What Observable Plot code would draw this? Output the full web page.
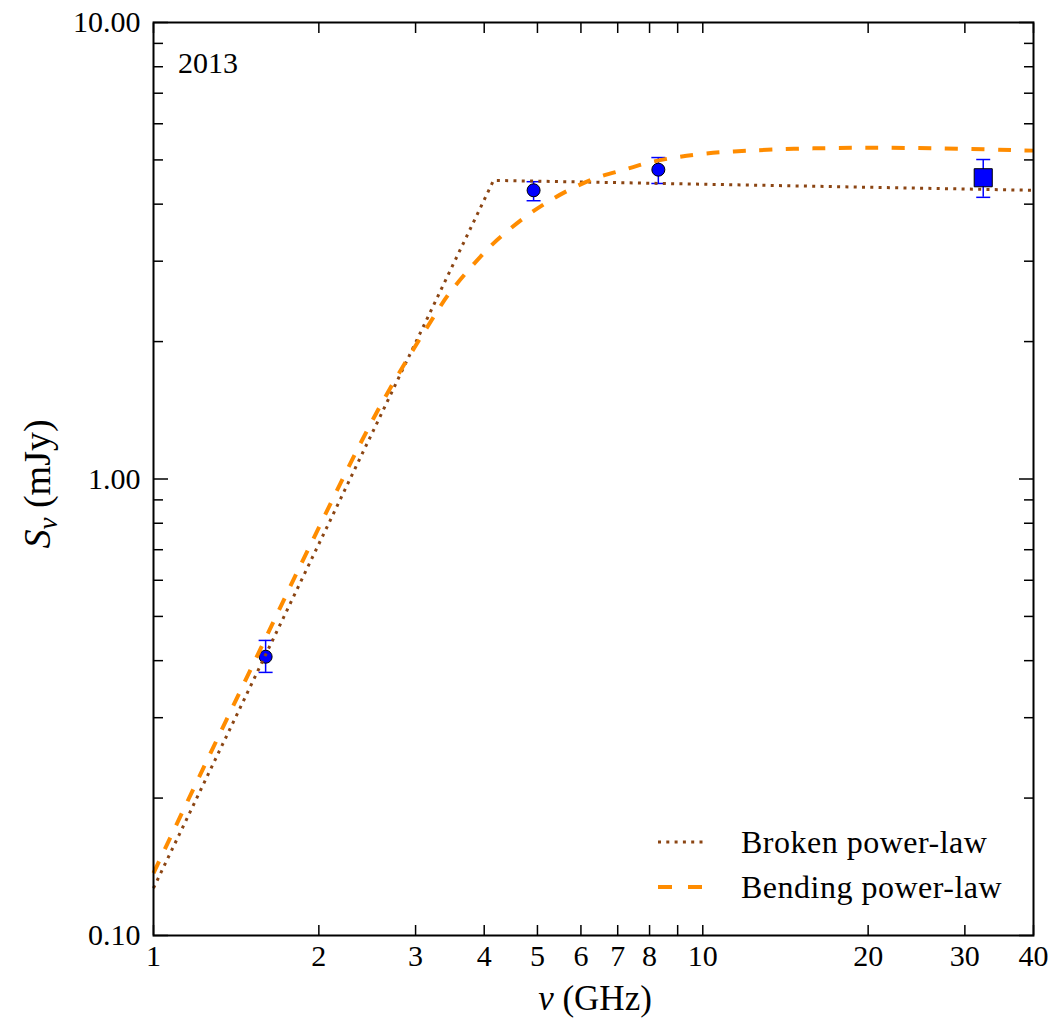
<!DOCTYPE html>
<html><head><meta charset="utf-8">
<script src="https://cdn.jsdelivr.net/npm/d3@7"></script>
<script src="https://cdn.jsdelivr.net/npm/@observablehq/plot@0.6"></script>
<style>body{margin:0;background:#fff}</style>
</head><body><div id="chart"></div>
<script>
const xTicks = [1, 2, 3, 4, 5, 6, 7, 8, 9, 10, 20, 30, 40];
const yMajor = [0.1, 1, 10];
const yMajorLabels = ["0.10", "1.00", "10.00"];
const yMinor = [0.2, 0.3, 0.4, 0.5, 0.6, 0.7, 0.8, 0.9, 2, 3, 4, 5, 6, 7, 8, 9];

// measured flux densities (circles)
const circFreq = [1.60, 4.92, 8.3];
const circFlux = [0.408, 4.29, 4.76];
const circLo = [0.377, 4.07, 4.44];
const circHi = [0.443, 4.48, 5.06];
// measured flux density (square)
const sqFreq = [32.4];
const sqFlux = [4.57];
const sqLo = [4.14];
const sqHi = [5.01];

// broken power-law model
const brokenFreq = [1.0, 4.16, 40];
const brokenFlux = [0.127, 4.51, 4.29];
// bending power-law model
const bendFreq = [1.0, 1.233, 1.57, 1.908, 2.59, 3.27, 3.48, 4.06, 4.37, 4.78, 5.21, 5.76, 6.44, 7.20, 8.01, 8.98, 10.04, 11.39, 15.9, 24.2, 40];
const bendFlux = [0.137, 0.233, 0.427, 0.697, 1.449, 2.31, 2.58, 3.19, 3.46, 3.77, 4.04, 4.32, 4.58, 4.76, 4.94, 5.07, 5.16, 5.22, 5.30, 5.31, 5.24];

const circles = circFreq.map((f, i) => ({f, s: circFlux[i], lo: circLo[i], hi: circHi[i]}));
const squares = sqFreq.map((f, i) => ({f, s: sqFlux[i], lo: sqLo[i], hi: sqHi[i]}));
const errs = circles.concat(squares);
const broken = brokenFreq.map((f, i) => ({f, s: brokenFlux[i]}));
const bend = bendFreq.map((f, i) => ({f, s: bendFlux[i]}));

const BLUE = "#0000ff", ORANGE = "#ff8c00", BROWN = "#8b4513";
const capSymbol = {draw(ctx) { ctx.moveTo(-7, 0); ctx.lineTo(7, 0); }};
const FONT = "Liberation Serif";
const yLabelOf = d => yMajorLabels[yMajor.indexOf(d)] ?? "";

const plot = Plot.plot({
  width: 1050, height: 1018,
  marginLeft: 153, marginRight: 17, marginTop: 22, marginBottom: 83,
  x: {type: "log", domain: [1, 40]},
  y: {type: "log", domain: [0.1, 10]},
  style: {fontFamily: FONT, background: "white", color: "black"},
  marks: [
    // ticks (inward, all four sides)
    Plot.axisX(xTicks, {anchor: "bottom", tickSize: -10, fill: "none", strokeWidth: 1.5, label: null}),
    Plot.axisX(xTicks, {anchor: "top", tickSize: -10, fill: "none", strokeWidth: 1.5, label: null}),
    Plot.axisY(yMajor, {anchor: "left", tickSize: -15, fill: "none", strokeWidth: 1.5, label: null}),
    Plot.axisY(yMajor, {anchor: "right", tickSize: -15, fill: "none", strokeWidth: 1.5, label: null}),
    Plot.axisY(yMinor, {anchor: "left", tickSize: -10, fill: "none", strokeWidth: 1.5, label: null}),
    Plot.axisY(yMinor, {anchor: "right", tickSize: -10, fill: "none", strokeWidth: 1.5, label: null}),
    // tick labels
    Plot.axisX(xTicks, {anchor: "bottom", tickSize: 0, tickPadding: 9, fontSize: 30, tickFormat: d => String(d), label: null}),
    Plot.axisY(yMajor, {anchor: "left", tickSize: 0, tickPadding: 13, fontSize: 30, tickFormat: yLabelOf, label: null}),
    // error bars
    Plot.ruleX(errs, {x: "f", y1: "lo", y2: "hi", stroke: BLUE, strokeWidth: 1.5}),
    Plot.dot(errs, {x: "f", y: "lo", symbol: capSymbol, stroke: BLUE, strokeWidth: 1.5, fill: "none"}),
    Plot.dot(errs, {x: "f", y: "hi", symbol: capSymbol, stroke: BLUE, strokeWidth: 1.5, fill: "none"}),
    // points
    Plot.dot(circles, {x: "f", y: "s", r: 6.5, fill: BLUE, stroke: "black", strokeWidth: 1}),
    Plot.dot(squares, {x: "f", y: "s", symbol: "square", r: 10.2, fill: BLUE, stroke: "black", strokeWidth: 1}),
    // models
    Plot.line(broken, {x: "f", y: "s", stroke: BROWN, strokeWidth: 3, strokeDasharray: "3,5.3", strokeLinecap: "butt"}),
    Plot.line(bend, {x: "f", y: "s", stroke: ORANGE, strokeWidth: 4, strokeDasharray: "13,13.5", strokeLinecap: "butt", curve: "catmull-rom"}),
    Plot.frame({stroke: "black", strokeWidth: 2})
  ]
});
document.getElementById("chart").appendChild(plot);

const svg = d3.select(plot);
// year annotation
svg.append("text").attr("x", 178).attr("y", 73).attr("text-anchor", "start")
  .attr("font-size", 30).attr("fill", "black").text("2013");
// x axis label
const xl = svg.append("text").attr("x", 595).attr("y", 1010).attr("text-anchor", "middle")
  .attr("font-size", 35).attr("fill", "black");
xl.append("tspan").attr("font-style", "italic").text("ν");
xl.append("tspan").text("\u00a0(GHz)");
// y axis label
const yl = svg.append("text").attr("transform", "translate(50,484) rotate(-90)").attr("text-anchor", "middle")
  .attr("font-size", 38).attr("fill", "black");
yl.append("tspan").attr("font-style", "italic").text("S");
yl.append("tspan").attr("font-style", "italic").attr("font-size", 27).attr("dy", 7).text("ν");
yl.append("tspan").attr("dy", -7).text("\u00a0(mJy)");
// legend
const leg = svg.append("g");
leg.append("line").attr("x1", 658).attr("x2", 704).attr("y1", 842).attr("y2", 842)
  .attr("stroke", BROWN).attr("stroke-width", 3).attr("stroke-dasharray", "3,5.3");
leg.append("line").attr("x1", 658).attr("x2", 704).attr("y1", 887).attr("y2", 887)
  .attr("stroke", ORANGE).attr("stroke-width", 4).attr("stroke-dasharray", "14,16");
leg.append("text").attr("x", 741).attr("y", 853).attr("text-anchor", "start").attr("letter-spacing", 0.5)
  .attr("font-size", 32).attr("fill", "black").text("Broken power-law");
leg.append("text").attr("x", 741).attr("y", 898).attr("text-anchor", "start").attr("letter-spacing", 0.5)
  .attr("font-size", 32).attr("fill", "black").text("Bending power-law");
// force the serif face on every text element
svg.selectAll("text, tspan").attr("font-family", FONT).style("font-family", "'Liberation Serif', serif");
</script>
</body></html>
